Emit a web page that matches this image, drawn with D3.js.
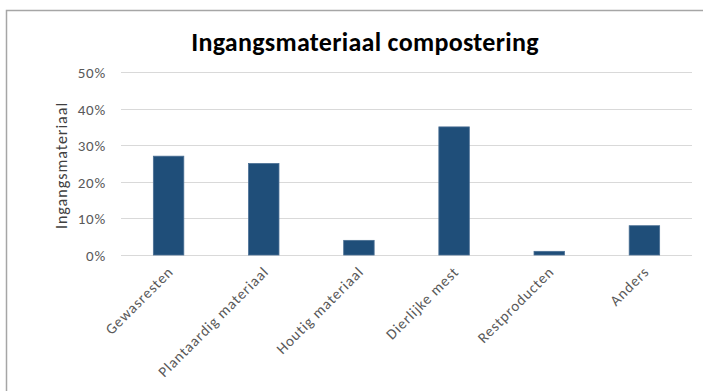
<!DOCTYPE html>
<html>
<head>
<meta charset="utf-8">
<script src="https://cdn.jsdelivr.net/npm/d3@7"></script>
<style>
  html, body { margin: 0; padding: 0; background: #fff; }
  svg { display: block; }
</style>
</head>
<body>
<script>
// Input material used for composting, share per category
const categories = ["Gewasresten", "Plantaardig materiaal", "Houtig materiaal", "Dierlijke mest", "Restproducten", "Anders"];
const values = [0.27, 0.25, 0.04, 0.35, 0.01, 0.08];
const yTicks = [0, 0.1, 0.2, 0.3, 0.4, 0.5];
const chartTitle = "Ingangsmateriaal compostering";
const yTitle = "Ingangsmateriaal";

const W = 703, H = 391;
const margin = { left: 121, right: 11, top: 72, bottom: 136 };
const font = "Carlito, Calibri, Lato, 'Liberation Sans', Arial, sans-serif";

const svg = d3.select("body").append("svg")
  .attr("width", W).attr("height", H);

// chart frame
svg.append("rect")
  .attr("x", 6.5).attr("y", 10.5)
  .attr("width", W + 20).attr("height", H + 20)
  .attr("fill", "#fff").attr("stroke", "#a6a6a6").attr("stroke-width", 1.5);

const x = d3.scaleBand()
  .domain(categories)
  .range([margin.left, W - margin.right])
  .paddingInner(0.68).paddingOuter(0.34);

const y = d3.scaleLinear()
  .domain([0, 0.5])
  .range([H - margin.bottom, margin.top]);

// gridlines
svg.append("g")
  .selectAll("line")
  .data(yTicks)
  .join("line")
  .attr("x1", margin.left).attr("x2", W - margin.right)
  .attr("y1", d => Math.round(y(d)) + 0.5).attr("y2", d => Math.round(y(d)) + 0.5)
  .attr("stroke", "#d9d9d9").attr("stroke-width", 1.2);

// y axis labels
const yAxis = d3.axisLeft(y).tickValues(yTicks).tickFormat(d3.format(".0%")).tickSize(0).tickPadding(15);
const gy = svg.append("g").attr("transform", `translate(${margin.left},0)`).call(yAxis);
gy.select(".domain").remove();
gy.selectAll("text")
  .attr("font-family", font).attr("font-size", 15).attr("fill", "#595959")
  .attr("letter-spacing", 0.8).attr("dy", "0.36em");

// bars
svg.append("g")
  .selectAll("rect")
  .data(values)
  .join("rect")
  .attr("x", (d, i) => x(categories[i]))
  .attr("y", d => y(d))
  .attr("width", x.bandwidth())
  .attr("height", d => y(0) - y(d))
  .attr("fill", "#1f4e79")
  .attr("stroke", "#4a6f94").attr("stroke-width", 0.8);

// x axis labels, rotated
const xAxis = d3.axisBottom(x).tickSize(0).tickPadding(0);
const gx = svg.append("g").attr("transform", `translate(0,${y(0)})`).call(xAxis);
gx.select(".domain").remove();
gx.selectAll("text")
  .attr("font-family", font).attr("font-size", 15).attr("fill", "#595959")
  .attr("letter-spacing", 0.9)
  .attr("text-anchor", "end")
  .attr("dy", "0.35em")
  .attr("transform", "translate(2,14) rotate(-45)");

// title
svg.append("text")
  .attr("x", 365).attr("y", 51)
  .attr("text-anchor", "middle")
  .attr("font-family", font).attr("font-weight", "bold").attr("font-size", 26)
  .attr("letter-spacing", 0.3)
  .attr("fill", "#000")
  .text(chartTitle);

// y axis title
svg.append("text")
  .attr("transform", `translate(67,${(y(0) + y(0.5)) / 2 + 2}) rotate(-90)`)
  .attr("text-anchor", "middle")
  .attr("font-family", font).attr("font-size", 16)
  .attr("letter-spacing", 1)
  .attr("fill", "#404040")
  .text(yTitle);
</script>
</body>
</html>
